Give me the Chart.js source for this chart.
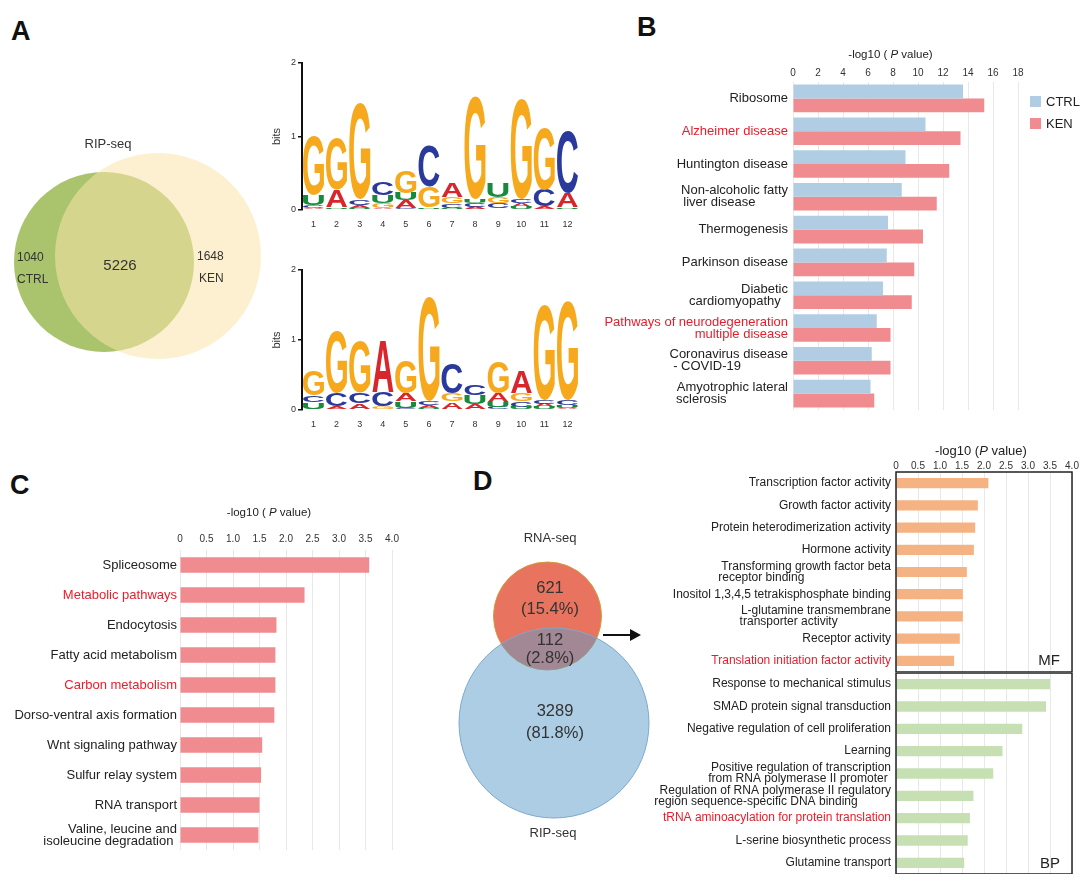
<!DOCTYPE html>
<html>
<head>
<meta charset="utf-8">
<script src="https://cdn.jsdelivr.net/npm/chart.js@4.4.1/dist/chart.umd.min.js"></script>
<style>
  body { margin: 0; background: #fff; width: 1080px; height: 883px; position: relative; overflow: hidden; }
  canvas { position: absolute; }
  .tag { position: absolute; font: bold 27px "Liberation Sans", Arial, sans-serif; line-height: 1; color: #111; }
</style>
</head>
<body>
<div class="tag" style="left:11px;top:18px">A</div>
<div class="tag" style="left:637px;top:14px">B</div>
<div class="tag" style="left:10px;top:472px">C</div>
<div class="tag" style="left:473px;top:468px">D</div>

<canvas id="vennA" width="280" height="240" style="left:0;top:130px"></canvas>
<canvas id="logo1" width="335" height="175" style="left:255px;top:55px"></canvas>
<canvas id="logo2" width="335" height="168" style="left:255px;top:262px"></canvas>
<canvas id="kegg" width="490" height="370" style="left:590px;top:40px"></canvas>
<canvas id="keggC" width="420" height="345" style="left:0;top:505px"></canvas>
<canvas id="vennD" width="210" height="325" style="left:440px;top:520px"></canvas>
<canvas id="goMF" width="490" height="237" style="left:590px;top:435px"></canvas>
<canvas id="goBP" width="490" height="212" style="left:590px;top:662px"></canvas>

<script>
// ---- A: RIP-seq overlap
const ripGroups = ['CTRL', 'KEN'];
const ripCounts = [1040, 5226, 1648]; // CTRL only, shared, KEN only

// ---- A: motif logos, information (bits) per base
const logoPos = ['1', '2', '3', '4', '5', '6', '7', '8', '9', '10', '11', '12'];
const logoBases = ['A', 'C', 'G', 'U'];
const motif1A = [0.03, 0.23, 0.04, 0.03, 0.10, 0.02, 0.19, 0.04, 0.02, 0.05, 0.03, 0.19];
const motif1C = [0.03, 0.02, 0.07, 0.17, 0.03, 0.55, 0.06, 0.05, 0.07, 0.05, 0.23, 0.85];
const motif1G = [0.80, 0.69, 1.30, 0.07, 0.30, 0.28, 0.09, 1.40, 0.09, 1.37, 0.84, 0.02];
const motif1U = [0.14, 0.02, 0.03, 0.10, 0.10, 0.02, 0.03, 0.05, 0.20, 0.04, 0.02, 0.02];
const motif2A = [0.02, 0.03, 0.08, 0.74, 0.11, 0.04, 0.10, 0.07, 0.12, 0.31, 0.05, 0.03];
const motif2C = [0.10, 0.19, 0.14, 0.21, 0.03, 0.05, 0.43, 0.15, 0.04, 0.08, 0.05, 0.07];
const motif2G = [0.36, 0.88, 0.74, 0.03, 0.47, 1.48, 0.12, 0.02, 0.45, 0.12, 1.36, 1.41];
const motif2U = [0.09, 0.02, 0.02, 0.02, 0.10, 0.03, 0.02, 0.12, 0.08, 0.04, 0.04, 0.04];

// ---- B: KEGG, CTRL vs KEN
const keggTerms = [
  'Ribosome', 'Alzheimer disease', 'Huntington disease',
  ['Non-alcoholic fatty', 'liver disease         '], 'Thermogenesis', 'Parkinson disease',
  ['Diabetic', 'cardiomyopathy  '], ['Pathways of neurodegeneration', 'multiple disease'],
  ['Coronavirus disease', '- COVID-19             '], ['Amyotrophic lateral', 'sclerosis                 ']
];
const keggCtrl = [13.6, 10.6, 9.0, 8.7, 7.6, 7.5, 7.2, 6.7, 6.3, 6.2];
const keggKen = [15.3, 13.4, 12.5, 11.5, 10.4, 9.7, 9.5, 7.8, 7.8, 6.5];
const keggRed = [1, 7];

// ---- C: KEGG
const cTerms = [
  'Spliceosome', 'Metabolic pathways', 'Endocytosis', 'Fatty acid metabolism', 'Carbon metabolism',
  'Dorso-ventral axis formation', 'Wnt signaling pathway', 'Sulfur relay system', 'RNA transport',
  ['Valine, leucine and', 'isoleucine degradation ']
];
const cValues = [3.57, 2.35, 1.82, 1.80, 1.80, 1.78, 1.55, 1.53, 1.50, 1.48];
const cRed = [1, 4];

// ---- D: overlap RNA-seq / RIP-seq
const dSets = ['RNA-seq', 'RIP-seq'];
const dCounts = [621, 112, 3289]; // RNA-seq only, shared, RIP-seq only

// ---- D: GO terms
const mfTerms = [
  'Transcription factor activity', 'Growth factor activity', 'Protein heterodimerization activity',
  'Hormone activity', ['Transforming growth factor beta', 'receptor binding                          '],
  'Inositol 1,3,4,5 tetrakisphosphate binding', ['L-glutamine transmembrane', 'transporter activity                '],
  'Receptor activity', 'Translation initiation factor activity'
];
const mfValues = [2.10, 1.86, 1.80, 1.77, 1.61, 1.52, 1.52, 1.45, 1.32];
const mfRed = [8];
const bpTerms = [
  'Response to mechanical stimulus', 'SMAD protein signal transduction',
  'Negative regulation of cell proliferation', 'Learning',
  ['Positive regulation of transcription', 'from RNA polymerase II promoter '],
  ['Regulation of RNA polymerase II regulatory', 'region sequence-specific DNA binding          '],
  'tRNA aminoacylation for protein translation', 'L-serine biosynthetic process', 'Glutamine transport'
];
const bpValues = [3.50, 3.41, 2.87, 2.42, 2.21, 1.76, 1.68, 1.63, 1.55];
const bpRed = [6];

const FONT = '"Liberation Sans", Arial, Helvetica, sans-serif';
const RED = '#ea1c2a';
const DARK = '#222';
const BASE_COLORS = ['#d8262c', '#2a3a9c', '#f6a91d', '#178b3b'];

Chart.defaults.font.family = FONT;
Chart.defaults.color = DARK;
Chart.defaults.animation = false;
Chart.defaults.responsive = false;
Chart.defaults.events = [];
Chart.defaults.plugins.legend.display = false;
Chart.defaults.plugins.tooltip.enabled = false;

// fixed scale box, no label overhang padding
const fixW = w => s => { s.width = w; s.paddingTop = 0; s.paddingBottom = 0; };
const fixH = h => s => { s.height = h; s.paddingLeft = 0; s.paddingRight = 0; };

// text + arrow on the venn canvases (in data units)
const vennText = {
  id: 'vennText',
  afterDatasetsDraw(chart, args, o) {
    const { ctx, scales: { x, y } } = chart;
    ctx.save();
    (o.items || []).forEach(t => {
      ctx.font = `${t.size}px ${FONT}`;
      ctx.fillStyle = '#333';
      ctx.textAlign = t.align || 'center';
      ctx.textBaseline = 'middle';
      ctx.fillText(t.text, x.getPixelForValue(t.x), y.getPixelForValue(t.y));
    });
    if (o.arrow) {
      const [x0, y0, x1] = o.arrow;
      const px0 = x.getPixelForValue(x0), px1 = x.getPixelForValue(x1), py = y.getPixelForValue(y0);
      ctx.strokeStyle = '#111'; ctx.fillStyle = '#111'; ctx.lineWidth = 2;
      ctx.beginPath(); ctx.moveTo(px0, py); ctx.lineTo(px1 - 8, py); ctx.stroke();
      ctx.beginPath(); ctx.moveTo(px1, py); ctx.lineTo(px1 - 11, py - 6); ctx.lineTo(px1 - 11, py + 6); ctx.closePath(); ctx.fill();
    }
    ctx.restore();
  }
};

function vennChart(id, w, h, circles, items, arrow) {
  return new Chart(document.getElementById(id), {
    type: 'bubble',
    data: { datasets: circles.map(c => ({ data: [{ x: c.x, y: c.y, r: c.r }], backgroundColor: c.fill, borderColor: c.stroke || c.fill, borderWidth: c.stroke ? 1 : 0, clip: false })) },
    options: {
      layout: { padding: 0, autoPadding: false },
      scales: { x: { display: false, min: 0, max: w }, y: { display: false, min: 0, max: h, reverse: true } },
      plugins: { vennText: { items, arrow } }
    },
    plugins: [vennText]
  });
}

// stretched letters inside each floating bar
const letters = {
  id: 'letters',
  afterDatasetsDraw(chart) {
    const ctx = chart.ctx;
    ctx.save();
    ctx.font = `bold 100px ${FONT}`;
    ctx.textAlign = 'left';
    ctx.textBaseline = 'alphabetic';
    chart.data.datasets.forEach((ds, di) => {
      const m = ctx.measureText(ds.label);
      const gw = m.actualBoundingBoxLeft + m.actualBoundingBoxRight;
      const gh = m.actualBoundingBoxAscent + m.actualBoundingBoxDescent;
      chart.getDatasetMeta(di).data.forEach(bar => {
        const top = Math.min(bar.y, bar.base), hgt = Math.abs(bar.base - bar.y);
        if (hgt < 0.8) return;
        const wd = bar.width * 0.94;
        ctx.save();
        ctx.translate(bar.x - wd / 2, top + hgt);
        ctx.scale(wd / gw, hgt / gh);
        ctx.fillStyle = ds.glyphColor;
        ctx.fillText(ds.label, m.actualBoundingBoxLeft, -m.actualBoundingBoxDescent);
        ctx.restore();
      });
    });
    ctx.restore();
  }
};

function logoChart(id, motif) {
  const datasets = logoBases.map((b, bi) => ({
    label: b,
    glyphColor: BASE_COLORS[bi],
    data: logoPos.map((p, i) => {
      const col = motif.map((arr, k) => ({ k, h: arr[i] })).sort((a, c) => a.h - c.h);
      let base = 0;
      for (const e of col) {
        if (e.k === bi) return [base, base + e.h];
        base += e.h;
      }
    }),
    backgroundColor: 'rgba(0,0,0,0)',
    borderWidth: 0,
    grouped: false,
    barPercentage: 1,
    categoryPercentage: 0.97
  }));
  return new Chart(document.getElementById(id), {
    type: 'bar',
    data: { labels: logoPos, datasets },
    options: {
      layout: { padding: { top: 8, right: 11, left: 0, bottom: 0 } },
      scales: {
        x: {
          afterFit: fixH(20),
          grid: { display: false }, border: { display: false },
          ticks: { font: { size: 9 }, padding: 1, color: '#333', maxRotation: 0, autoSkip: false }
        },
        y: {
          min: 0, max: 2,
          afterFit: fixW(47),
          grid: { drawOnChartArea: false, drawTicks: true, tickLength: 4, color: '#111', lineWidth: 1.5 },
          border: { display: true, color: '#111', width: 2 },
          ticks: { stepSize: 1, font: { size: 9 }, padding: 2, color: '#333' },
          title: { display: true, text: 'bits', font: { size: 11 }, color: '#333', padding: { top: 15, bottom: 0 } }
        }
      }
    },
    plugins: [letters]
  });
}

// axis title with italic P
const axisTitle = {
  id: 'axisTitle',
  afterDraw(chart, args, o) {
    if (!o.parts) return;
    const { ctx, chartArea: c } = chart;
    ctx.save();
    ctx.fillStyle = DARK;
    ctx.textBaseline = 'middle';
    ctx.textAlign = 'left';
    const fonts = o.parts.map(p => `${p.italic ? 'italic ' : ''}${o.size}px ${FONT}`);
    const widths = o.parts.map((p, i) => { ctx.font = fonts[i]; return ctx.measureText(p.text).width; });
    let x = (c.left + c.right) / 2 + o.dx - widths.reduce((a, b) => a + b, 0) / 2;
    o.parts.forEach((p, i) => { ctx.font = fonts[i]; ctx.fillText(p.text, x, c.top - o.offset); x += widths[i]; });
    ctx.restore();
  }
};

const frame = {
  id: 'frame',
  afterDraw(chart, args, o) {
    if (!o.color) return;
    const { ctx, chartArea: c } = chart;
    ctx.save();
    ctx.strokeStyle = o.color;
    ctx.lineWidth = o.width;
    ctx.strokeRect(c.left, c.top, c.right - c.left, c.bottom - c.top);
    ctx.font = `15px ${FONT}`;
    ctx.fillStyle = DARK;
    ctx.textAlign = 'right';
    ctx.textBaseline = 'bottom';
    ctx.fillText(o.tag, c.right - 12, c.bottom - o.tagDy);
    ctx.restore();
  }
};

const sideLegend = {
  id: 'sideLegend',
  afterDraw(chart, args, o) {
    if (o.x === undefined) return;
    const ctx = chart.ctx;
    ctx.save();
    ctx.font = `13px ${FONT}`;
    ctx.textBaseline = 'middle';
    ctx.textAlign = 'left';
    chart.data.datasets.forEach((ds, i) => {
      const y = o.y + i * o.gap;
      ctx.fillStyle = ds.backgroundColor;
      ctx.fillRect(o.x, y, 11, 11);
      ctx.fillStyle = DARK;
      ctx.fillText(ds.label, o.x + 16, y + 6);
    });
    ctx.restore();
  }
};

const titleParts = (space) => [
  { text: space ? '-log10 ( ' : '-log10 (' }, { text: 'P', italic: true }, { text: ' value)' }
];
const fmt1 = v => (v === 0 ? '0' : v.toFixed(1));

function hbar(id, cfg) {
  return new Chart(document.getElementById(id), {
    type: 'bar',
    data: { labels: cfg.labels, datasets: cfg.datasets },
    options: {
      indexAxis: 'y',
      layout: { padding: { top: 0, left: 0, bottom: 0, right: cfg.right } },
      datasets: { bar: { categoryPercentage: cfg.cat, barPercentage: cfg.bar, borderWidth: 0 } },
      scales: {
        x: {
          position: 'top', min: 0, max: cfg.max,
          afterFit: fixH(cfg.xh),
          grid: { color: '#e8e8e8', drawTicks: false },
          border: { display: false },
          ticks: {
            display: cfg.xticks !== false, stepSize: cfg.step, padding: cfg.tickPad, autoSkip: false, maxRotation: 0,
            font: { size: 10 }, color: '#333', callback: cfg.fmt
          }
        },
        y: {
          afterFit: fixW(cfg.yw),
          grid: { display: false, drawTicks: false },
          border: { display: false },
          ticks: {
            autoSkip: false, padding: cfg.ypad,
            font: { size: cfg.fs, lineHeight: cfg.lh },
            color: c => (cfg.red.includes(c.index) ? RED : DARK)
          }
        }
      },
      plugins: { axisTitle: cfg.title || {}, frame: cfg.frame || {}, sideLegend: cfg.legend || {} }
    },
    plugins: [axisTitle, frame, sideLegend]
  });
}

// ---- A venn
vennChart('vennA', 280, 240, [
  { x: 158, y: 126, r: 103, fill: 'rgba(249,227,170,0.55)' },
  { x: 104, y: 132, r: 90, fill: '#a9c46c' }
], [
  { text: 'RIP-seq', x: 108, y: 14, size: 13 },
  { text: String(ripCounts[0]), x: 17, y: 128, size: 12, align: 'left' },
  { text: ripGroups[0], x: 17, y: 150, size: 12, align: 'left' },
  { text: String(ripCounts[1]), x: 120, y: 136, size: 15 },
  { text: String(ripCounts[2]), x: 197, y: 127, size: 12, align: 'left' },
  { text: ripGroups[1], x: 199, y: 149, size: 12, align: 'left' }
]);

// ---- A logos
logoChart('logo1', [motif1A, motif1C, motif1G, motif1U]);
logoChart('logo2', [motif2A, motif2C, motif2G, motif2U]);

// ---- B
hbar('kegg', {
  labels: keggTerms,
  datasets: [
    { label: 'CTRL', data: keggCtrl, backgroundColor: '#b1cde3' },
    { label: 'KEN', data: keggKen, backgroundColor: '#f08b8f' }
  ],
  red: keggRed, max: 18, step: 2, fmt: v => v, xh: 42, yw: 203, right: 62,
  cat: 0.84, bar: 1, fs: 13, lh: 0.93, ypad: 5, tickPad: 3,
  title: { parts: titleParts(true), size: 11.5, dx: -15, offset: 27 },
  legend: { x: 440, y: 56, gap: 22 }
});

// ---- C
hbar('keggC', {
  labels: cTerms,
  datasets: [{ label: 'KEN', data: cValues, backgroundColor: '#f08b8f' }],
  red: cRed, max: 4, step: 0.5, fmt: fmt1, xh: 45, yw: 180, right: 28,
  cat: 0.52, bar: 1, fs: 13, lh: 0.93, ypad: 3, tickPad: 5,
  title: { parts: titleParts(true), size: 11.5, dx: -17, offset: 37 }
});

// ---- D venn
const dTotal = dCounts.reduce((a, b) => a + b, 0);
const pct = n => `(${(100 * n / dTotal).toFixed(1)}%)`;
vennChart('vennD', 210, 325, [
  { x: 114, y: 203, r: 95, fill: 'rgba(90,156,202,0.5)', stroke: '#7ea8cc' },
  { x: 107.5, y: 96, r: 54, fill: '#e8745f', stroke: '#d39a3a' }
], [
  { text: dSets[0], x: 110, y: 18, size: 13 },
  { text: String(dCounts[0]), x: 110, y: 68, size: 16.5 },
  { text: pct(dCounts[0]), x: 110, y: 89, size: 16.5 },
  { text: String(dCounts[1]), x: 110, y: 120, size: 16.5 },
  { text: pct(dCounts[1]), x: 110, y: 138, size: 16.5 },
  { text: String(dCounts[2]), x: 115, y: 191, size: 16.5 },
  { text: pct(dCounts[2]), x: 115, y: 213, size: 16.5 },
  { text: dSets[1], x: 113, y: 313, size: 13 }
], [163, 115, 201]);

// ---- D GO bars
hbar('goMF', {
  labels: mfTerms,
  datasets: [{ label: 'MF', data: mfValues, backgroundColor: '#f5b283' }],
  red: mfRed, max: 4, step: 0.5, fmt: fmt1, xh: 37, yw: 306, right: 8,
  cat: 0.46, bar: 1, fs: 12, lh: 0.9, ypad: 5, tickPad: 0,
  title: { parts: titleParts(false), size: 13, dx: -3, offset: 21 },
  frame: { color: '#222', width: 1.5, tag: 'MF', tagDy: 4 }
});
hbar('goBP', {
  labels: bpTerms,
  datasets: [{ label: 'BP', data: bpValues, backgroundColor: '#c6e0b4' }],
  red: bpRed, max: 4, step: 0.5, fmt: fmt1, xh: 11, xticks: false, yw: 306, right: 8,
  cat: 0.46, bar: 1, fs: 12, lh: 0.9, ypad: 5, tickPad: 2,
  frame: { color: '#222', width: 1.5, tag: 'BP', tagDy: 3 }
});
</script>
</body>
</html>
